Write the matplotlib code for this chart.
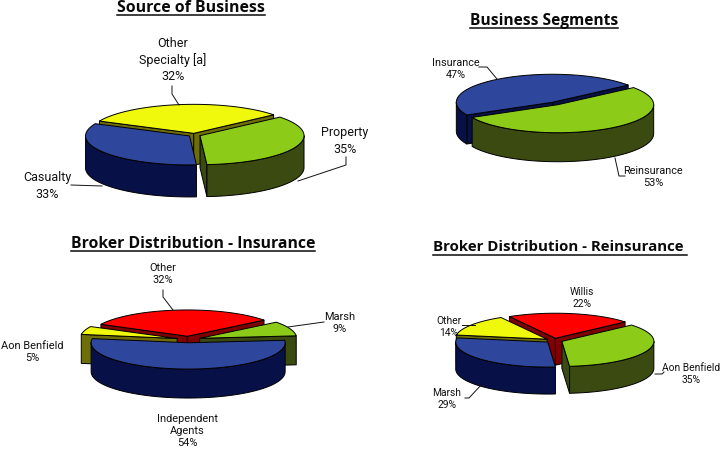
import numpy as np
import matplotlib
matplotlib.use('Agg')
import matplotlib.pyplot as plt
from matplotlib.patches import Polygon

# data
titles = ['Source of Business', 'Business Segments',
          'Broker Distribution - Insurance', 'Broker Distribution - Reinsurance ']

source_names = ['Other\nSpecialty [a]', 'Property', 'Casualty']
source_values = [32, 35, 33]
segment_names = ['Insurance', 'Reinsurance']
segment_values = [47, 53]
ins_names = ['Other', 'Marsh', 'Independent\nAgents', 'Aon Benfield']
ins_values = [32, 9, 54, 5]
re_names = ['Willis', 'Aon Benfield', 'Marsh', 'Other']
re_values = [22, 35, 29, 14]

# top colour, side colour
YELLOW = ('#F0F80C', '#6E6E08')
GREEN = ('#8CCB18', '#3A4A10')
BLUE = ('#2E469C', '#081048')
RED = ('#FF0000', '#7E0000')
EDGE = '#000000'

LABEL_FONT = 'Roboto'
TITLE_FONT = 'Open Sans'


def pt(cx, cy, rx, ry, deg):
    t = np.radians(deg)
    return np.column_stack([cx + rx * np.cos(t), cy - ry * np.sin(t)])


def draw_wedge(ax, cx, cy, rx, ry, depth, a1, a2, cols, z):
    top, side = cols
    kw = dict(edgecolor=EDGE, linewidth=0.7, joinstyle='round', zorder=z)
    vertex = np.array([[cx, cy]])
    # radial faces, only the ones turned to the viewer
    for a, normal in ((a1, a1 + 90), (a2, a2 - 90)):
        if np.sin(np.radians(normal)) < 0:
            rim = pt(cx, cy, rx, ry, np.array([a]))
            quad = np.vstack([vertex, rim, rim + [0, depth], vertex + [0, depth]])
            ax.add_patch(Polygon(quad, facecolor=side, **kw))
    # outer wall
    for k in (-1, 0, 1):
        lo, hi = -180 + 360 * k, 360 * k
        a, b = max(a2, lo), min(a1, hi)
        if b > a:
            arc = pt(cx, cy, rx, ry, np.linspace(a, b, 60))
            wall = np.vstack([arc, (arc + [0, depth])[::-1]])
            ax.add_patch(Polygon(wall, facecolor=side, **kw))
    # top
    arc = pt(cx, cy, rx, ry, np.linspace(a1, a2, 120))
    ax.add_patch(Polygon(np.vstack([vertex, arc]), facecolor=top, **kw))


def draw_pie(ax, values, cols, cx, cy, rx, ry, depth, start, explode):
    vals = np.array(values, dtype=float)
    edges = start - np.concatenate([[0], np.cumsum(vals)]) / vals.sum() * 360
    mids = (edges[:-1] + edges[1:]) / 2
    # back to front
    order = np.argsort(-np.sin(np.radians(mids)))
    for z, i in enumerate(order):
        t = np.radians(mids[i])
        ox = cx + explode * np.cos(t)
        oy = cy - explode * ry / rx * np.sin(t)
        draw_wedge(ax, ox, oy, rx, ry, depth, edges[i], edges[i + 1], cols[i], 2 + z * 0.1)


def label(ax, names, values, positions, fs, spacing):
    for name, v, (x, y) in zip(names, values, positions):
        ax.text(x, y, f'{name}\n{v}%', ha='center', va='center', fontsize=fs,
                family=LABEL_FONT, color='#111111', linespacing=spacing, zorder=5)


def leaders(ax, lines):
    for line in lines:
        xs, ys = zip(*line)
        ax.plot(xs, ys, color='#111111', lw=0.7, zorder=4)


fig = plt.figure(figsize=(7.2, 4.52), dpi=100)
ax = fig.add_axes([0, 0, 1, 1])
ax.set_xlim(0, 720)
ax.set_ylim(452, 0)
ax.axis('off')

# Source of Business
draw_pie(ax, source_values, [YELLOW, GREEN, BLUE], 194.5, 136, 104, 29, 32, 155, 6)
label(ax, source_names, source_values, [(173, 60), (345, 141), (47, 186)], 9.0, 1.32)
leaders(ax, [[(172, 87), (172, 95), (179, 106)],
             [(346, 158), (346, 166), (298, 182)],
             [(71, 186), (102, 187)]])

# Business Segments
draw_pie(ax, segment_values, [BLUE, GREEN], 555, 104.5, 96, 28, 29, 207, 5)
label(ax, segment_names, segment_values, [(456, 69), (653, 177)], 7.8, 1.25)
leaders(ax, [[(479, 68), (487, 68), (497, 80)],
             [(615, 159), (619, 177), (625, 177)]])

# Broker Distribution - Insurance
draw_pie(ax, ins_values, [RED, GREEN, BLUE, YELLOW], 188.5, 340.5, 97, 26.3, 29, 153, 12)
label(ax, ins_names, ins_values, [(163, 274), (340, 323), (187, 431), (32, 352)], 7.9, 1.3)
leaders(ax, [[(163, 291), (163, 298), (173, 311)],
             [(324, 323), (288, 328)]])

# Broker Distribution - Reinsurance
draw_pie(ax, re_values, [RED, GREEN, BLUE, YELLOW], 554, 341.5, 92, 25, 27, 120, 8.5)
label(ax, re_names, re_values, [(582, 298), (691, 374), (447, 399), (449, 327)], 7.4, 1.3)
leaders(ax, [[(462, 326), (475, 326)],
             [(465, 399), (469, 399), (482, 385)],
             [(655, 375), (662, 375), (664, 373)]])

# titles, underlined by hand
title_pos = [(191, 8, 11.4, 7.5), (544, 21, 11.2, 8), (193, 244.5, 11.3, 7.5), (560, 247.5, 10.85, 8)]
fig.canvas.draw()
renderer = fig.canvas.get_renderer()
for title, (x, y, fs, drop) in zip(titles, title_pos):
    t = ax.text(x, y, title, ha='center', va='center', fontsize=fs,
                fontweight='bold', family=TITLE_FONT, color='#0A0A0A')
    bb = t.get_window_extent(renderer)
    ax.plot([bb.x0, bb.x1], [y + drop, y + drop], color='#0A0A0A', lw=1.1)

fig.savefig('out.png', dpi=100)
